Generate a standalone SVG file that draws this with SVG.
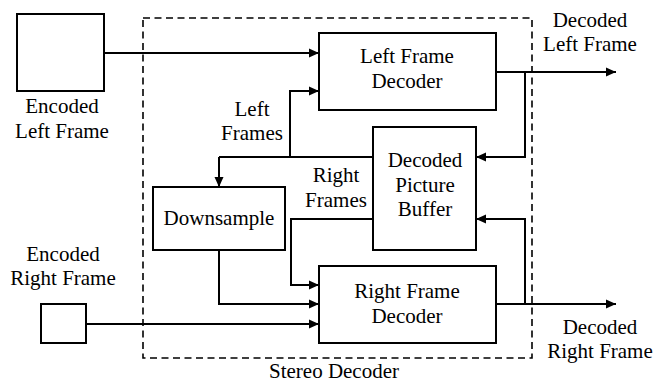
<svg xmlns="http://www.w3.org/2000/svg" width="654" height="383" viewBox="0 0 654 383">
<style>
.box{fill:#fff;stroke:#000;stroke-width:2}
.ln{fill:none;stroke:#000;stroke-width:2;marker-end:url(#ah)}
.pl{fill:none;stroke:#000;stroke-width:2}
.dash{fill:none;stroke:#000;stroke-width:1.6;stroke-dasharray:7 4.5}
text{font-family:"Liberation Serif","Times New Roman",serif;font-size:21px;text-anchor:middle;fill:#000}
</style>
<defs>
<marker id="ah" markerUnits="userSpaceOnUse" markerWidth="10" markerHeight="10" refX="10" refY="5" orient="auto">
<path d="M0,0.5 L10,5 L0,9.5 Z" fill="#000"/>
</marker>
</defs>
<rect class="dash" x="143" y="18" width="389" height="340"/>
<text x="334" y="378">Stereo Decoder</text>
<g id="enc-left">
<rect class="box" x="17" y="14" width="87" height="77"/>
<text x="62" y="113">Encoded</text>
<text x="62" y="138">Left Frame</text>
</g>
<g id="enc-right">
<rect class="box" x="41" y="304" width="45" height="39"/>
<text x="63" y="261">Encoded</text>
<text x="63" y="285">Right Frame</text>
</g>
<g id="lfd">
<rect class="box" x="319" y="33" width="177" height="77"/>
<text x="407" y="63">Left Frame</text>
<text x="407" y="88">Decoder</text>
</g>
<g id="dpb">
<rect class="box" x="373" y="127" width="103" height="123"/>
<text x="425" y="167">Decoded</text>
<text x="425" y="192">Picture</text>
<text x="425" y="216">Buffer</text>
</g>
<g id="down">
<rect class="box" x="153" y="187" width="132" height="63"/>
<text x="219" y="225">Downsample</text>
</g>
<g id="rfd">
<rect class="box" x="319" y="266" width="177" height="77"/>
<text x="407" y="298">Right Frame</text>
<text x="407" y="323">Decoder</text>
</g>
<g id="out-left">
<text x="590" y="27">Decoded</text>
<text x="590" y="51">Left Frame</text>
</g>
<g id="out-right">
<text x="600" y="334">Decoded</text>
<text x="600" y="358">Right Frame</text>
</g>
<g id="labels">
<text x="252" y="116">Left</text>
<text x="252" y="140">Frames</text>
<text x="336" y="182">Right</text>
<text x="336" y="207">Frames</text>
</g>
<g id="connectors">
<path class="ln" d="M104,53 H319"/>
<path class="pl" d="M373,157 H219"/>
<path class="ln" d="M290,157 V91 H319"/>
<path class="ln" d="M219,157 V187"/>
<path class="ln" d="M496,72 H616"/>
<path class="ln" d="M525,72 V157 H476"/>
<path class="ln" d="M496,304 H616"/>
<path class="ln" d="M525,304 V219 H476"/>
<path class="ln" d="M373,219 H291 V285 H319"/>
<path class="ln" d="M219,250 V304 H319"/>
<path class="ln" d="M86,324 H319"/>
</g>
</svg>
